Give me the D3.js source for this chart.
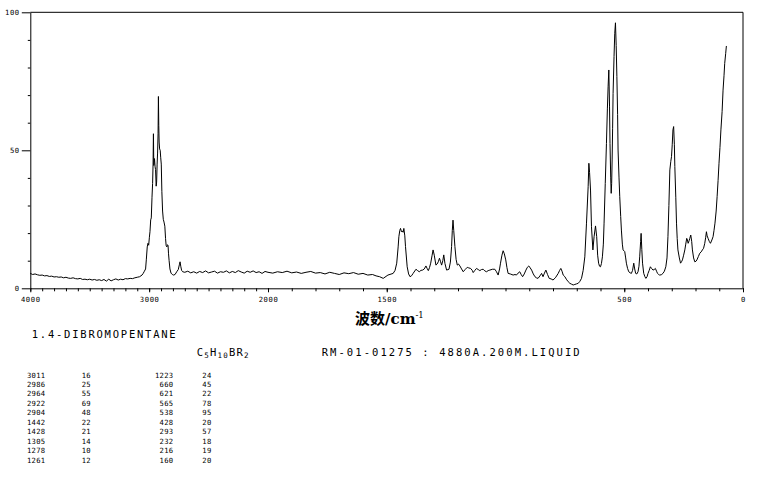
<!DOCTYPE html>
<html>
<head>
<meta charset="utf-8">
<script src="https://cdn.jsdelivr.net/npm/d3@7"></script>
<style>
  html, body { margin: 0; padding: 0; background: #fff; }
  svg { display: block; }
</style>
</head>
<body>
<svg id="chart" width="761" height="477"></svg>
<script>
// ---- Data (Raman spectrum of 1,4-dibromopentane) ----
const wavenumbers = [
  4000,3980,3960,3940,3920,3900,3880,3860,3840,3820,3800,3780,3760,3740,3720,3700,3680,3660,3640,3620,
  3600,3580,3560,3540,3520,3500,3480,3460,3440,3420,3400,3380,3360,3340,3320,3300,3280,3260,3240,3220,
  3200,3180,3160,3140,3120,3100,3080,3060,3050,3040,3030,3024,3016,3010,3004,2998,2993,2987,2982,2976,
  2971,2967,2964,2961,2958,2955,2950,2946,2941,2937,2933,2929,2925,2922,2919,2916,2912,2907,2903,2898,
  2893,2887,2881,2875,2868,2862,2857,2851,2846,2841,2837,2832,2825,2816,2805,2795,2782,2768,2755,2746,
  2740,2734,2727,2718,2700,2675,2650,2625,2600,2575,2550,2525,2500,2475,2450,2425,2400,2375,2350,2325,
  2300,2275,2250,2225,2200,2175,2150,2125,2100,2075,2050,2025,2000,1980,1960,1940,1920,1900,1880,1860,
  1840,1820,1800,1780,1760,1740,1720,1700,1680,1660,1640,1620,1600,1580,1560,1545,1530,1515,1495,1473,
  1465,1458,1452,1449,1445,1442,1438,1435,1431,1428,1424,1421,1414,1408,1402,1395,1389,1377,1370,1363,
  1356,1349,1342,1335,1330,1325,1320,1315,1309,1305,1300,1293,1288,1283,1278,1274,1269,1264,1260,1255,
  1248,1238,1232,1227,1224,1221,1218,1213,1208,1203,1198,1192,1185,1178,1170,1161,1155,1147,1140,1136,
  1129,1122,1115,1108,1101,1094,1087,1080,1073,1066,1055,1045,1038,1031,1025,1021,1015,1010,1005,999,
  994,989,980,968,960,954,947,940,934,928,921,914,908,902,896,890,883,876,870,863,
  855,848,842,836,830,823,816,808,800,790,778,772,767,762,757,750,744,736,729,722,
  715,708,701,694,687,680,673,666,659,652,649,646,642,638,632,627,621,616,612,608,
  604,600,596,592,588,585,580,575,571,568,565,562,560,557,555,553,551,549,547,543,
  540,537,534,531,528,526,522,519,515,512,508,505,498,494,491,486,481,475,470,465,
  460,456,452,447,442,438,435,431,429,426,423,418,413,409,404,400,395,390,385,379,
  374,369,364,360,355,351,344,337,331,325,320,316,312,308,304,301,298,295,292,289,
  287,283,280,277,274,268,263,259,255,250,245,241,237,234,231,227,224,220,216,213,
  208,203,198,194,188,182,176,171,166,161,157,154,151,147,142,137,131,126,122,118,
  113,109,105,101,97,93,88,84,80,77,73,70
];
const intensities = [
  5.4,5.0,5.2,4.9,4.7,4.8,4.5,4.6,4.3,4.4,4.1,4.2,4.0,4.1,3.8,4.0,3.7,3.6,3.8,3.5,
  3.4,3.6,3.2,3.3,3.1,3.3,3.0,3.2,2.9,3.1,2.8,3.2,2.6,3.3,2.7,3.1,3.4,3.0,3.3,3.1,
  3.5,3.4,3.6,3.5,3.8,4.0,4.2,4.8,5.4,6.2,7.0,10.3,15.0,16.3,15.6,18.5,20.5,24.8,25.5,33.0,
  38.0,45.0,56.0,44.5,45.5,47.0,44.0,43.0,37.0,38.5,45.0,49.0,56.0,69.5,59.0,53.0,50.5,50.0,47.5,45.0,
  35.0,28.0,25.0,24.0,22.5,18.0,15.5,15.0,15.8,15.5,12.5,10.0,7.0,5.5,5.0,4.8,5.0,6.0,6.8,8.5,
  9.6,8.0,6.5,6.0,5.8,6.2,5.6,6.0,5.5,6.1,5.7,6.3,5.6,5.9,6.2,5.5,6.0,5.8,6.3,5.6,
  6.1,5.7,6.4,5.9,5.5,6.2,5.8,6.3,5.7,6.0,5.4,6.1,5.8,5.5,6.0,5.7,6.2,5.6,5.9,5.4,
  5.8,6.1,5.5,5.7,5.2,5.8,5.4,5.0,5.6,5.3,5.7,5.1,5.4,4.8,5.0,4.5,4.2,3.6,4.8,5.4,
  6.5,9.1,15.0,18.7,21.0,21.7,20.5,20.8,20.3,21.7,19.0,15.1,7.8,5.2,4.2,4.6,5.4,6.9,6.4,6.0,
  6.5,6.6,7.0,8.1,7.2,6.4,7.5,9.1,12.0,13.9,12.0,8.4,8.8,9.6,10.9,9.8,8.4,10.0,12.1,9.0,
  6.6,6.9,9.5,15.1,21.0,24.7,21.0,15.1,10.5,8.4,8.8,8.1,7.0,6.0,6.8,7.6,7.4,7.2,6.5,5.7,
  6.5,7.2,6.8,6.4,6.8,6.9,6.3,6.0,6.4,6.6,6.9,6.9,6.0,4.8,7.0,9.1,12.0,13.6,12.5,10.3,
  7.5,5.4,5.2,4.8,5.0,4.8,5.5,6.0,5.0,4.2,5.2,6.6,7.6,8.1,7.4,6.6,5.2,4.2,3.8,3.6,
  4.5,5.4,4.2,5.5,6.6,5.0,3.6,3.4,3.0,3.8,5.4,6.5,7.2,6.2,4.8,4.2,3.3,2.4,1.8,1.5,
  1.2,1.4,1.6,1.8,2.5,3.6,6.5,11.4,23.6,36.8,45.3,42.0,35.6,22.3,13.9,18.7,22.6,18.7,12.0,9.1,
  8.0,7.8,9.0,11.4,16.0,23.6,38.0,52.5,65.0,73.0,79.1,66.0,52.5,40.0,34.4,38.0,46.5,58.0,70.6,84.0,
  92.4,96.2,88.0,76.7,63.0,50.1,40.0,33.2,26.0,21.1,16.0,13.9,13.3,11.0,9.1,7.2,6.0,5.6,5.4,6.5,
  9.1,7.0,5.4,5.2,6.0,8.0,11.4,17.0,19.9,14.0,9.1,5.4,4.2,3.6,4.2,5.4,6.5,7.8,7.2,6.6,
  6.8,7.2,6.2,5.4,5.0,4.8,4.9,5.4,6.2,7.8,11.0,18.7,30.0,42.9,46.0,47.7,52.0,57.4,58.6,52.0,
  44.1,33.0,23.6,18.0,13.9,11.0,9.1,9.6,10.3,12.0,13.9,16.0,18.1,17.5,16.3,17.2,18.1,19.3,17.0,13.9,
  11.0,9.6,9.8,10.3,11.5,12.7,13.2,13.9,14.5,16.3,18.5,20.5,19.0,18.1,17.0,16.3,17.5,18.7,21.0,23.6,
  28.0,33.2,39.0,45.3,51.0,57.4,64.0,71.8,77.0,81.5,85.0,87.8
];

// Axis ticks
const yMajorTicks = [0, 50, 100];
const yMinorTicks = [10, 20, 30, 40, 60, 70, 80, 90];
const xMajorTicks = [4000, 3000, 2000, 1500, 500, 0];
const xMinorTicks = d3.range(0, 4001, 100);

// Peak table
const peakWaveA = ["3011","2986","2964","2922","2904","1442","1428","1305","1278","1261"];
const peakIntA  = ["16","25","55","69","48","22","21","14","10","12"];
const peakWaveB = ["1223","660","621","565","538","428","293","232","216","160"];
const peakIntB  = ["24","45","22","78","95","20","57","18","19","20"];

// Texts
const compoundName = "1.4-DIBROMOPENTANE";
const sampleInfo = "RM-01-01275 : 4880A.200M.LIQUID";

// ---- Drawing ----
const svg = d3.select("#chart");
const pLeft = 30.3, pRight = 743.0, pTop = 12.3, pBottom = 288.3;

// Wavenumber axis has a scale change at 2000 cm-1
const x = d3.scaleLinear().domain([4000, 2000, 0]).range([pLeft, 268.0, pRight]);
const y = d3.scaleLinear().domain([0, 100]).range([pBottom, pTop]);

const pixFont = "'DejaVu Sans Mono', 'Liberation Mono', monospace";

// frame: top and right edges
svg.append("path")
  .attr("d", `M${pLeft},${pTop}H${pRight}V${pBottom}`)
  .attr("fill", "none").attr("stroke", "#000").attr("stroke-width", 1);

// X axis minor ticks
svg.append("g").attr("transform", `translate(0,${pBottom})`)
  .call(d3.axisBottom(x).tickValues(xMinorTicks).tickSize(3).tickFormat(""))
  .call(g => g.select(".domain").remove())
  .call(g => g.selectAll("line").attr("stroke", "#000"));

// X axis major ticks + labels
const xAxisG = svg.append("g").attr("transform", `translate(0,${pBottom})`)
  .call(d3.axisBottom(x).tickValues(xMajorTicks).tickSize(4).tickPadding(5).tickFormat(d3.format("d")).tickSizeOuter(0));
xAxisG.select(".domain").attr("stroke", "#000");
xAxisG.selectAll("line").attr("stroke", "#000");
xAxisG.selectAll("text")
  .attr("font-family", pixFont).attr("font-size", 7.2).attr("fill", "#000")
  .attr("letter-spacing", 0.6);

// Y axis minor ticks
svg.append("g").attr("transform", `translate(${pLeft},0)`)
  .call(d3.axisLeft(y).tickValues(yMinorTicks).tickSize(2.5).tickFormat(""))
  .call(g => g.select(".domain").remove())
  .call(g => g.selectAll("line").attr("stroke", "#000"));

// Y axis major ticks + labels
const yAxisG = svg.append("g").attr("transform", `translate(${pLeft},0)`)
  .call(d3.axisLeft(y).tickValues(yMajorTicks).tickSize(8.5).tickPadding(2).tickFormat(d3.format("d")).tickSizeOuter(0));
yAxisG.select(".domain").attr("stroke", "#000");
yAxisG.selectAll("line").attr("stroke", "#000");
yAxisG.selectAll("text")
  .attr("font-family", pixFont).attr("font-size", 7.2).attr("fill", "#000")
  .attr("letter-spacing", 0.6);

// Spectrum line
const nPts = Math.min(wavenumbers.length, intensities.length);
const pts = d3.range(nPts).map(i => [wavenumbers[i], intensities[i]]);
svg.append("path")
  .datum(pts)
  .attr("fill", "none")
  .attr("stroke", "#000")
  .attr("stroke-width", 1)
  .attr("stroke-linejoin", "round")
  .attr("d", d3.line().x(d => x(d[0])).y(d => y(d[1])));

// Axis title
const title = svg.append("text")
  .attr("x", 355).attr("y", 323.5)
  .attr("font-family", "'DejaVu Serif', 'Noto Sans CJK SC', serif")
  .attr("font-size", 15).attr("font-weight", "bold").attr("fill", "#000");
title.append("tspan").attr("font-family", "'Noto Sans CJK SC', sans-serif").text("波数");
title.append("tspan").text("/cm");
title.append("tspan").attr("font-size", 8.5).attr("dy", -6).attr("font-weight", "normal").text("-1");

// Compound name
svg.append("text")
  .attr("x", 31.7).attr("y", 337.5)
  .attr("font-family", pixFont).attr("font-size", 10.5).attr("fill", "#000")
  .attr("textLength", 144).attr("lengthAdjust", "spacing")
  .text(compoundName);

// Formula C5H10BR2
const formula = svg.append("text")
  .attr("x", 196.7).attr("y", 355.5)
  .attr("font-family", pixFont).attr("font-size", 10.5).attr("fill", "#000")
  .attr("letter-spacing", 1.2);
formula.append("tspan").text("C");
formula.append("tspan").attr("font-size", 7.5).attr("dy", 2).text("5");
formula.append("tspan").attr("dy", -2).text("H");
formula.append("tspan").attr("font-size", 7.5).attr("dy", 2).text("10");
formula.append("tspan").attr("dy", -2).text("BR");
formula.append("tspan").attr("font-size", 7.5).attr("dy", 2).text("2");

// Sample info
svg.append("text")
  .attr("x", 321.7).attr("y", 355.5)
  .attr("font-family", pixFont).attr("font-size", 10.5).attr("fill", "#000")
  .attr("textLength", 258).attr("lengthAdjust", "spacing")
  .text(sampleInfo);

// Peak table
const rowY = i => 377.5 + i * 9.45;
const tbl = svg.append("g")
  .attr("font-family", pixFont).attr("font-size", 7.2).attr("fill", "#000")
  .attr("letter-spacing", 0.3);
tbl.selectAll(".wa").data(peakWaveA).join("text")
  .attr("x", 45.5).attr("y", (d, i) => rowY(i)).attr("text-anchor", "end").text(d => d);
tbl.selectAll(".ia").data(peakIntA).join("text")
  .attr("x", 81.7).attr("y", (d, i) => rowY(i)).text(d => d);
tbl.selectAll(".wb").data(peakWaveB).join("text")
  .attr("x", 173.5).attr("y", (d, i) => rowY(i)).attr("text-anchor", "end").text(d => d);
tbl.selectAll(".ib").data(peakIntB).join("text")
  .attr("x", 202.3).attr("y", (d, i) => rowY(i)).text(d => d);
</script>
</body>
</html>
